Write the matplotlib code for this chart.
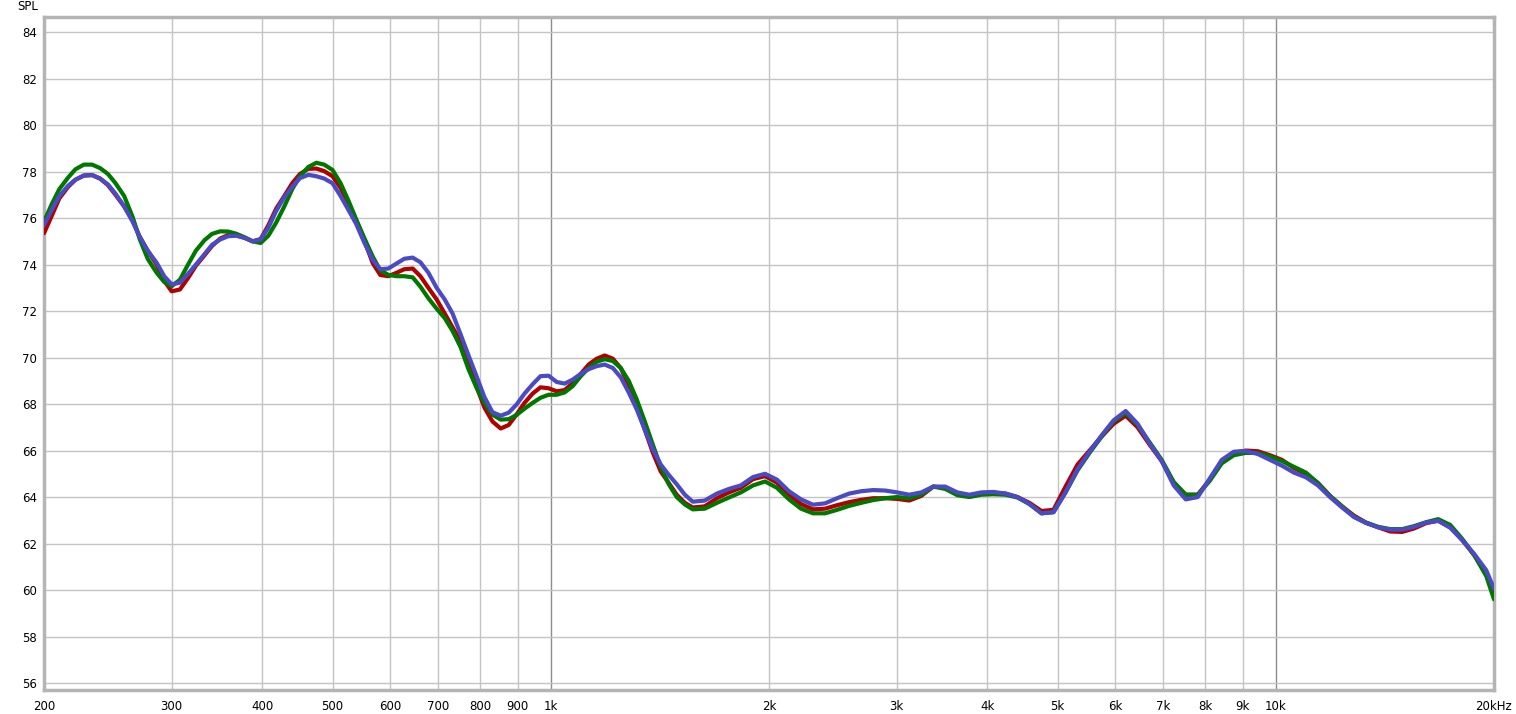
import numpy as np
import matplotlib
matplotlib.use("Agg")
import matplotlib.pyplot as plt

# frequency grid (Hz)
freqs = [200, 205, 210, 216, 221, 227, 233, 239, 245, 251,
         258, 265, 271, 278, 286, 293, 300, 308, 316, 324,
         333, 341, 350, 359, 368, 378, 388, 398, 408, 418,
         429, 440, 451, 463, 475, 487, 500, 513, 526, 539,
         553, 568, 582, 597, 613, 628, 645, 661, 678, 696,
         714, 732, 751, 770, 790, 810, 831, 853, 875, 897,
         920, 944, 968, 993, 1019, 1045, 1072, 1100, 1128, 1157,
         1187, 1218, 1249, 1281, 1314, 1348, 1383, 1418, 1455, 1492,
         1531, 1570,
         1631, 1695, 1761, 1829, 1901, 1975, 2051, 2131, 2214, 2300,
         2390, 2483, 2580, 2680, 2784, 2893, 3005, 3122, 3244, 3370,
         3501, 3637, 3779, 3926, 4079, 4238, 4403, 4574, 4752, 4937,
         5129, 5329, 5536, 5751, 5975, 6208, 6449, 6700, 6961, 7232,
         7514, 7806, 8110, 8425, 8753, 9094, 9448, 9816, 10198, 10595,
         11007, 11435, 11880, 12343, 12823, 13322, 13841, 14379, 14939, 15520,
         16124, 16752, 17404, 18081, 18785, 19516, 20000]

# dB SPL, one value per frequency
spl_red = [75.35, 76.1, 76.85, 77.35, 77.65, 77.83, 77.85, 77.7, 77.42, 77.0,
           76.5, 75.9, 75.2, 74.6, 74.0, 73.3, 72.85, 72.93, 73.42, 73.95,
           74.4, 74.8, 75.12, 75.27, 75.28, 75.15, 75.0, 75.1, 75.7, 76.4,
           76.95, 77.5, 77.9, 78.12, 78.13, 78.02, 77.8, 77.3, 76.6, 75.9,
           75.05, 74.07, 73.55, 73.5, 73.65, 73.8, 73.83, 73.5, 73.0, 72.5,
           71.9, 71.3, 70.7, 69.85, 68.75, 67.85, 67.25, 66.95, 67.1, 67.55,
           68.05, 68.45, 68.72, 68.68, 68.55, 68.6, 68.9, 69.3, 69.7, 69.95,
           70.09, 69.95, 69.55, 68.8, 67.91, 66.9, 65.91, 65.1, 64.6, 64.1,
           63.75, 63.55,
           63.6, 63.95, 64.2, 64.4, 64.77, 64.9, 64.62, 64.1, 63.7, 63.47,
           63.5, 63.65, 63.78, 63.88, 63.95, 63.95, 63.92, 63.85, 64.05, 64.45,
           64.4, 64.12, 64.05, 64.15, 64.18, 64.15, 64.0, 63.75, 63.4, 63.45,
           64.45, 65.4, 66.0, 66.6, 67.15, 67.5, 67.0, 66.25, 65.55, 64.6,
           64.1, 64.1, 64.75, 65.55, 65.9, 66.0, 65.97, 65.8, 65.6, 65.25,
           65.0, 64.6, 64.05, 63.6, 63.2, 62.9, 62.7, 62.52, 62.5, 62.65,
           62.88, 62.98, 62.7, 62.15, 61.5, 60.7, 59.8]

spl_green = [75.85, 76.6, 77.25, 77.75, 78.1, 78.3, 78.3, 78.15, 77.9, 77.5,
             76.95, 76.05, 75.1, 74.25, 73.65, 73.25, 73.07, 73.35, 74.0, 74.6,
             75.05, 75.32, 75.43, 75.42, 75.33, 75.18, 75.0, 74.93, 75.25, 75.8,
             76.5, 77.25, 77.8, 78.2, 78.38, 78.3, 78.07, 77.5, 76.75, 75.95,
             75.15, 74.35, 73.75, 73.56, 73.5, 73.5, 73.45, 73.05, 72.55, 72.1,
             71.7, 71.15, 70.45, 69.5, 68.7, 68.05, 67.55, 67.33, 67.35, 67.53,
             67.8, 68.05, 68.27, 68.4, 68.4, 68.5, 68.77, 69.2, 69.55, 69.82,
             69.93, 69.85, 69.55, 69.0, 68.2, 67.25, 66.25, 65.3, 64.55, 64.0,
             63.68, 63.47,
             63.5, 63.75, 63.98, 64.2, 64.5, 64.67, 64.4, 63.9, 63.5, 63.3,
             63.3, 63.45, 63.62, 63.75, 63.87, 63.95, 64.0, 63.95, 64.1, 64.45,
             64.35, 64.08, 64.0, 64.1, 64.12, 64.1, 63.98, 63.7, 63.3, 63.35,
             64.2, 65.15, 65.9, 66.6, 67.25, 67.62, 67.1, 66.35, 65.6, 64.65,
             64.1, 64.1, 64.7, 65.45, 65.8, 65.9, 65.9, 65.75, 65.55, 65.3,
             65.05, 64.6, 64.05, 63.6, 63.15, 62.9, 62.72, 62.62, 62.62, 62.75,
             62.92, 63.05, 62.8, 62.2, 61.5, 60.6, 59.6]

spl_blue = [75.7, 76.35, 76.95, 77.4, 77.65, 77.83, 77.85, 77.7, 77.45, 77.05,
            76.5, 75.85, 75.2, 74.6, 74.08, 73.5, 73.15, 73.22, 73.6, 74.0,
            74.45, 74.85, 75.08, 75.22, 75.24, 75.15, 75.0, 75.08, 75.6, 76.3,
            76.9, 77.35, 77.72, 77.86, 77.8, 77.7, 77.5, 76.95, 76.35, 75.75,
            74.95, 74.2, 73.8, 73.83, 74.05, 74.25, 74.3, 74.1, 73.65, 73.0,
            72.5, 71.9, 71.0, 70.1, 69.2, 68.3, 67.65, 67.5, 67.63, 67.98,
            68.45, 68.85, 69.2, 69.22, 68.95, 68.88, 69.05, 69.3, 69.5, 69.63,
            69.7, 69.55, 69.15, 68.5, 67.77, 66.9, 66.05, 65.4, 64.95, 64.55,
            64.1, 63.8,
            63.85, 64.15, 64.35, 64.5, 64.86, 65.0, 64.75, 64.25, 63.9, 63.67,
            63.73, 63.95, 64.15, 64.25, 64.3, 64.28, 64.2, 64.1, 64.2, 64.45,
            64.45, 64.2, 64.1, 64.2, 64.22, 64.15, 64.0, 63.7, 63.3, 63.35,
            64.2, 65.2, 65.95, 66.65, 67.3, 67.7, 67.15, 66.3, 65.55, 64.5,
            63.9, 64.0, 64.8, 65.6, 65.95, 65.98, 65.85, 65.6, 65.35, 65.05,
            64.85, 64.5, 64.0, 63.55, 63.14, 62.88, 62.7, 62.6, 62.6, 62.72,
            62.9, 62.98, 62.68, 62.15, 61.55, 60.85, 60.05]

xtick_vals = [200, 300, 400, 500, 600, 700, 800, 900, 1000,
              2000, 3000, 4000, 5000, 6000, 7000, 8000, 9000, 10000, 20000]
xtick_labels = ["200", "300", "400", "500", "600", "700", "800", "900", "1k",
                "2k", "3k", "4k", "5k", "6k", "7k", "8k", "9k", "10k", "20kHz"]
ytick_vals = list(range(56, 86, 2))

fig = plt.figure(figsize=(15.16, 7.14), dpi=100)
ax = fig.add_axes([44 / 1516, 24 / 714, 1450 / 1516, 673 / 714])

ax.set_xscale("log")
ax.set_xlim(200, 20000)
ax.set_ylim(55.7, 84.65)

# grid, decades drawn darker
for f in xtick_vals[1:-1]:
    col = "#8c8c8c" if f in (1000, 10000) else "#c4c4c4"
    ax.axvline(f, color=col, lw=1, zorder=1)
for v in ytick_vals:
    ax.axhline(v, color="#c4c4c4", lw=1, zorder=1)

style = dict(lw=3, solid_capstyle="round", solid_joinstyle="round")
ax.plot(freqs, spl_red, color="#b00000", zorder=3, **style)
ax.plot(freqs, spl_green, color="#007800", zorder=4, **style)
ax.plot(freqs, spl_blue, color="#4a4ac4", zorder=5, **style)

ax.set_xticks(xtick_vals)
ax.set_xticklabels(xtick_labels)
ax.xaxis.set_minor_locator(matplotlib.ticker.NullLocator())
ax.set_yticks(ytick_vals)
ax.tick_params(length=0, labelsize=8.5, colors="#000000")
ax.tick_params(axis="x", pad=7)
ax.tick_params(axis="y", pad=5)

for s in ax.spines.values():
    s.set_color("#b4b4b4")
    s.set_linewidth(2.5)

fig.text(17 / 1516, 1 - 7 / 714, "SPL", fontsize=8.5, va="center", ha="left")

fig.savefig("out.png", dpi=100, facecolor="white")
